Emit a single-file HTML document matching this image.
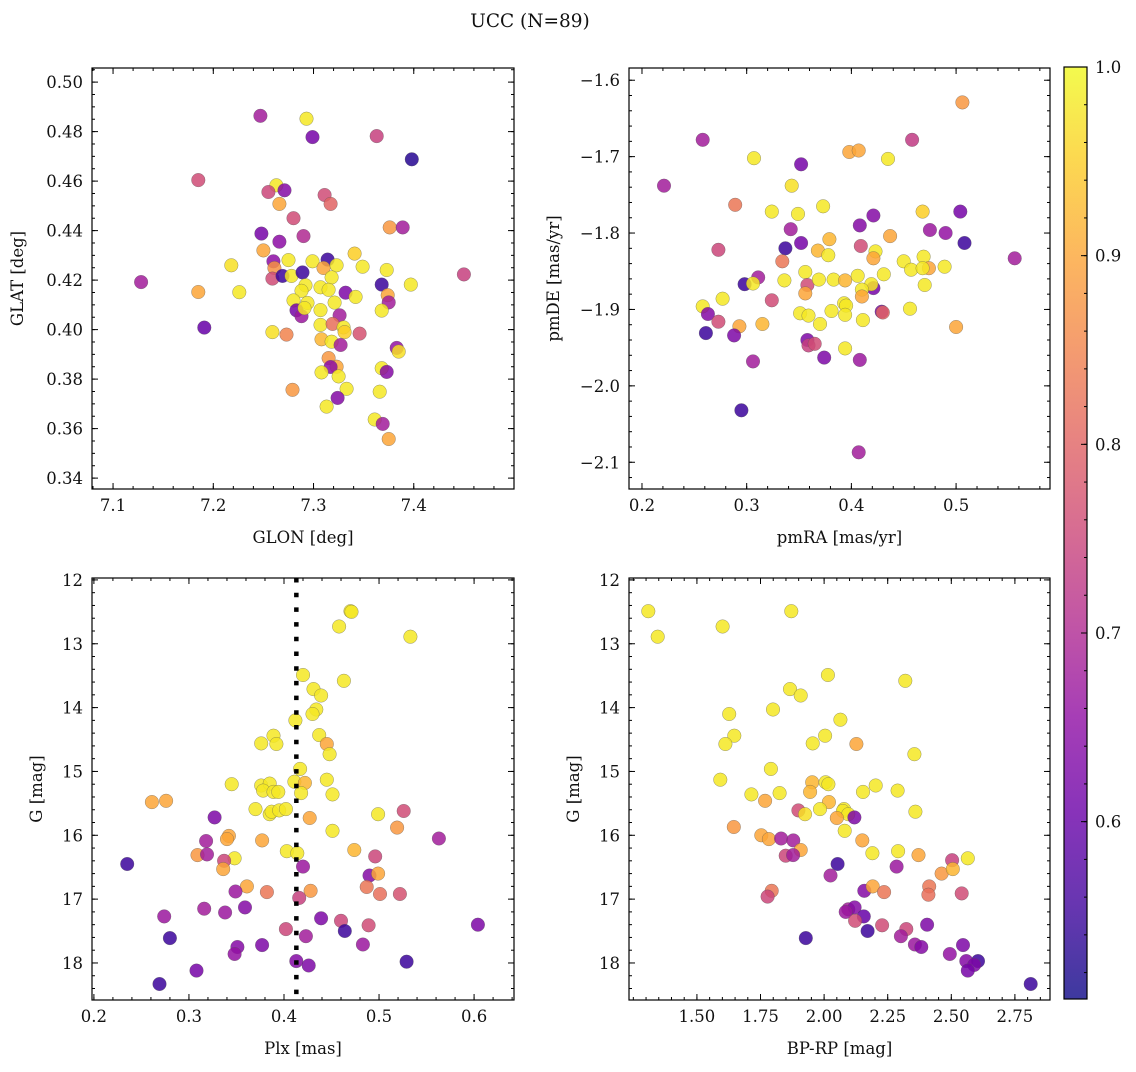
<!DOCTYPE html>
<html><head><meta charset="utf-8"><style>
html,body{margin:0;padding:0;background:#fff;}
svg text{font-family:"DejaVu Serif","Liberation Serif",serif;fill:#111;}
</style></head><body>
<svg id="fig" width="1136" height="1067" viewBox="0 0 1136 1067" xmlns="http://www.w3.org/2000/svg">
<defs>
<linearGradient id="plasma" x1="0" y1="1" x2="0" y2="0">
<stop offset="0" stop-color="#0d0887"/><stop offset="0.1" stop-color="#41049d"/><stop offset="0.2" stop-color="#6a00a8"/><stop offset="0.3" stop-color="#8f0da4"/><stop offset="0.4" stop-color="#b12a90"/><stop offset="0.5" stop-color="#cc4778"/><stop offset="0.6" stop-color="#e16462"/><stop offset="0.7" stop-color="#f2844b"/><stop offset="0.8" stop-color="#fca636"/><stop offset="0.9" stop-color="#fcce25"/><stop offset="1" stop-color="#f0f921"/>
</linearGradient>
</defs>
<text x="530" y="27" text-anchor="middle" font-size="18.5">UCC (N=89)</text>
</svg>
<script>
// ---------- data ----------
const glon=[7.247,7.293,7.299,7.363,7.398,7.185,7.263,7.255,7.271,7.266,7.311,7.317,7.280,7.376,7.389,7.248,7.266,7.290,7.250,7.341,7.218,7.260,7.275,7.261,7.259,7.269,7.278,7.289,7.299,7.314,7.310,7.323,7.318,7.349,7.373,7.450,7.128,7.368,7.397,7.185,7.226,7.292,7.288,7.307,7.315,7.332,7.342,7.374,7.375,7.280,7.294,7.321,7.283,7.288,7.291,7.307,7.368,7.326,7.307,7.319,7.330,7.331,7.191,7.259,7.273,7.346,7.308,7.318,7.327,7.383,7.385,7.315,7.323,7.317,7.308,7.325,7.368,7.373,7.333,7.279,7.366,7.324,7.313,7.361,7.369,7.375];
const glat=[0.4864,0.4852,0.4778,0.4782,0.4688,0.4604,0.4583,0.4556,0.4563,0.4508,0.4544,0.4508,0.4450,0.4413,0.4413,0.4388,0.4355,0.4378,0.4320,0.4307,0.4260,0.4276,0.4281,0.4249,0.4206,0.4217,0.4217,0.4231,0.4276,0.4283,0.4249,0.4260,0.4211,0.4254,0.4241,0.4223,0.4192,0.4182,0.4182,0.4152,0.4151,0.4179,0.4157,0.4171,0.4161,0.4149,0.4132,0.4139,0.4110,0.4118,0.4108,0.4109,0.4078,0.4054,0.4087,0.4079,0.4077,0.4058,0.4019,0.4023,0.4009,0.3990,0.4008,0.3990,0.3980,0.3984,0.3961,0.3951,0.3938,0.3926,0.3911,0.3885,0.3850,0.3849,0.3827,0.3811,0.3844,0.3829,0.3761,0.3757,0.3749,0.3724,0.3689,0.3637,0.3619,0.3558];
const probTL=[0.68,0.98,0.62,0.74,0.53,0.76,0.98,0.75,0.64,0.9,0.76,0.8,0.76,0.88,0.68,0.62,0.65,0.7,0.9,0.95,0.97,0.65,0.98,0.87,0.76,0.55,0.98,0.55,0.98,0.55,0.9,0.98,0.98,0.98,0.98,0.74,0.68,0.55,0.98,0.9,0.98,0.98,0.98,0.98,0.98,0.63,0.98,0.9,0.68,0.98,0.98,0.98,0.62,0.67,0.98,0.98,0.98,0.68,0.98,0.82,0.98,0.95,0.6,0.97,0.85,0.77,0.92,0.98,0.68,0.66,0.97,0.88,0.9,0.65,0.98,0.98,0.98,0.64,0.98,0.88,0.98,0.64,0.98,0.98,0.68,0.9];

const pmra=[0.506,0.258,0.458,0.398,0.407,0.307,0.435,0.352,0.221,0.343,0.289,0.373,0.324,0.349,0.468,0.504,0.421,0.408,0.342,0.475,0.490,0.437,0.379,0.352,0.508,0.337,0.273,0.409,0.368,0.378,0.423,0.421,0.556,0.334,0.450,0.469,0.457,0.474,0.468,0.489,0.431,0.356,0.311,0.298,0.306,0.336,0.358,0.369,0.383,0.394,0.406,0.356,0.421,0.419,0.410,0.410,0.470,0.277,0.324,0.258,0.263,0.393,0.395,0.381,0.351,0.359,0.394,0.429,0.430,0.456,0.273,0.293,0.315,0.370,0.411,0.500,0.261,0.288,0.358,0.359,0.365,0.394,0.374,0.408,0.306,0.295,0.407];
const pmde=[-1.629,-1.678,-1.678,-1.694,-1.692,-1.702,-1.703,-1.710,-1.738,-1.738,-1.763,-1.765,-1.772,-1.775,-1.772,-1.772,-1.777,-1.790,-1.795,-1.796,-1.800,-1.804,-1.808,-1.813,-1.813,-1.820,-1.822,-1.817,-1.823,-1.829,-1.824,-1.833,-1.833,-1.837,-1.837,-1.831,-1.848,-1.846,-1.846,-1.844,-1.854,-1.851,-1.858,-1.867,-1.866,-1.862,-1.868,-1.861,-1.861,-1.862,-1.856,-1.879,-1.872,-1.867,-1.874,-1.883,-1.868,-1.886,-1.888,-1.896,-1.906,-1.892,-1.895,-1.902,-1.905,-1.908,-1.907,-1.903,-1.904,-1.899,-1.916,-1.922,-1.919,-1.919,-1.914,-1.923,-1.931,-1.934,-1.940,-1.947,-1.945,-1.951,-1.963,-1.966,-1.968,-2.032,-2.087];
const probTR=[0.88,0.68,0.73,0.9,0.9,0.98,0.98,0.62,0.68,0.97,0.83,0.98,0.98,0.98,0.95,0.62,0.64,0.64,0.68,0.67,0.66,0.9,0.92,0.62,0.55,0.55,0.75,0.76,0.92,0.98,0.98,0.9,0.68,0.83,0.98,0.98,0.98,0.9,0.98,0.98,0.98,0.98,0.68,0.55,0.98,0.98,0.76,0.98,0.98,0.92,0.98,0.9,0.62,0.98,0.98,0.9,0.98,0.98,0.76,0.98,0.64,0.98,0.98,0.98,0.98,0.98,0.98,0.63,0.8,0.98,0.76,0.9,0.92,0.98,0.98,0.9,0.55,0.63,0.63,0.74,0.76,0.98,0.63,0.67,0.68,0.55,0.68];

const plx=[0.470,0.471,0.458,0.533,0.420,0.463,0.431,0.439,0.434,0.430,0.412,0.389,0.376,0.392,0.437,0.445,0.448,0.417,0.411,0.422,0.418,0.445,0.451,0.345,0.376,0.385,0.378,0.389,0.394,0.261,0.276,0.370,0.385,0.387,0.395,0.402,0.427,0.499,0.526,0.327,0.519,0.451,0.563,0.318,0.342,0.340,0.377,0.474,0.403,0.414,0.309,0.319,0.348,0.337,0.336,0.496,0.235,0.420,0.490,0.499,0.361,0.349,0.382,0.428,0.487,0.501,0.522,0.416,0.316,0.338,0.359,0.274,0.439,0.460,0.489,0.604,0.402,0.464,0.423,0.280,0.483,0.377,0.351,0.348,0.529,0.413,0.426,0.308,0.269];
const gmagBL=[12.49,12.50,12.73,12.89,13.49,13.58,13.71,13.81,14.03,14.10,14.20,14.44,14.56,14.57,14.43,14.57,14.73,14.96,15.16,15.18,15.34,15.13,15.36,15.20,15.22,15.19,15.30,15.32,15.32,15.48,15.46,15.59,15.67,15.63,15.61,15.59,15.73,15.67,15.62,15.72,15.88,15.93,16.05,16.09,16.01,16.06,16.08,16.23,16.25,16.28,16.31,16.30,16.36,16.40,16.53,16.33,16.45,16.49,16.63,16.60,16.80,16.88,16.89,16.87,16.81,16.92,16.92,16.98,17.15,17.21,17.13,17.27,17.30,17.34,17.41,17.40,17.47,17.50,17.58,17.61,17.71,17.72,17.75,17.86,17.98,17.97,18.04,18.12,18.33];
const probBL=[0.98,0.98,0.98,0.98,0.98,0.98,0.98,0.98,0.98,0.98,0.98,0.98,0.98,0.98,0.98,0.9,0.98,0.98,0.98,0.92,0.98,0.98,0.98,0.98,0.98,0.98,0.98,0.98,0.98,0.9,0.9,0.98,0.98,0.98,0.98,0.98,0.9,0.98,0.76,0.63,0.88,0.98,0.68,0.68,0.9,0.9,0.9,0.92,0.98,0.98,0.88,0.68,0.98,0.75,0.9,0.75,0.55,0.67,0.64,0.9,0.9,0.67,0.83,0.88,0.83,0.82,0.77,0.74,0.68,0.67,0.64,0.67,0.63,0.75,0.76,0.63,0.75,0.55,0.68,0.55,0.67,0.63,0.64,0.66,0.55,0.64,0.63,0.62,0.55];

const bprp=[1.309,1.346,1.871,1.601,2.015,2.319,1.866,1.908,1.799,1.627,2.064,2.004,1.647,1.612,1.955,2.127,2.355,1.791,1.592,1.953,2.006,2.017,2.203,1.945,2.153,2.289,1.714,1.825,1.768,2.019,1.984,2.078,2.074,2.095,1.899,1.925,2.119,2.359,2.050,2.081,1.645,1.753,1.783,1.831,1.879,2.150,1.908,2.190,2.291,2.371,1.849,1.878,2.565,2.503,2.053,2.285,2.025,2.462,2.506,1.794,1.778,2.158,2.191,2.236,2.413,2.410,2.541,2.095,2.120,2.085,2.156,2.122,2.228,2.405,2.323,2.171,2.302,1.928,2.357,2.382,2.546,2.494,2.559,2.605,2.590,2.565,2.812];
const gmagBR=[12.49,12.89,12.49,12.73,13.49,13.58,13.71,13.81,14.03,14.10,14.19,14.44,14.44,14.57,14.56,14.57,14.73,14.96,15.13,15.17,15.17,15.20,15.22,15.32,15.32,15.30,15.36,15.34,15.46,15.48,15.59,15.59,15.62,15.67,15.61,15.67,15.72,15.63,15.73,15.93,15.87,16.00,16.06,16.05,16.08,16.08,16.23,16.28,16.25,16.31,16.32,16.31,16.36,16.39,16.45,16.49,16.63,16.60,16.53,16.87,16.96,16.87,16.80,16.89,16.80,16.93,16.91,17.16,17.13,17.20,17.27,17.34,17.41,17.40,17.47,17.50,17.58,17.61,17.71,17.75,17.72,17.86,17.97,17.97,18.03,18.12,18.33];
const probBR=[0.98,0.98,0.98,0.98,0.98,0.98,0.98,0.98,0.98,0.98,0.98,0.98,0.98,0.98,0.98,0.9,0.98,0.98,0.98,0.92,0.98,0.98,0.98,0.92,0.98,0.98,0.98,0.98,0.9,0.92,0.98,0.98,0.98,0.98,0.76,0.97,0.63,0.98,0.9,0.98,0.88,0.9,0.9,0.68,0.68,0.9,0.9,0.98,0.98,0.9,0.75,0.68,0.98,0.74,0.55,0.67,0.68,0.88,0.92,0.83,0.75,0.64,0.9,0.83,0.83,0.82,0.76,0.68,0.64,0.67,0.6,0.76,0.76,0.63,0.75,0.55,0.68,0.55,0.67,0.64,0.63,0.66,0.64,0.55,0.63,0.62,0.55];

const plxLine=[0.413];
const cbTicks=[0.6,0.7,0.8,0.9,1.0];

// ---------- helpers ----------
const NS='http://www.w3.org/2000/svg';
const svg=document.getElementById('fig');
function mk(tag,attrs,parent){const e=document.createElementNS(NS,tag);for(const k in attrs)e.setAttribute(k,attrs[k]);(parent||svg).appendChild(e);return e;}
const VMIN=0.506,VMAX=1.0;
const stops=['#0d0887','#41049d','#6a00a8','#8f0da4','#b12a90','#cc4778','#e16462','#f2844b','#fca636','#fcce25','#f0f921'];
function hex(h){return [parseInt(h.substr(1,2),16),parseInt(h.substr(3,2),16),parseInt(h.substr(5,2),16)];}
function cmap(v){let t=(v-VMIN)/(VMAX-VMIN);t=Math.max(0,Math.min(1,t));const f=t*10,i=Math.min(9,Math.floor(f)),r=f-i;const a=hex(stops[i]),b=hex(stops[i+1]);return 'rgb('+a.map((c,k)=>Math.round(c+(b[k]-c)*r)).join(',')+')';}
function fmt(v,d){return v.toFixed(d).replace('-','\u2212');}
const FS=16.5;

function panel(p){
  const g=mk('g',{});
  
  
  const L=p.box[0],T=p.box[1],R=p.box[2],B=p.box[3];
  const sx=v=>L+(v-p.xd[0])/(p.xd[1]-p.xd[0])*(R-L);
  const sy=p.yinv?(v=>T+(v-p.yd[0])/(p.yd[1]-p.yd[0])*(B-T)):(v=>B-(v-p.yd[0])/(p.yd[1]-p.yd[0])*(B-T));
  const pts=mk('g',{},g);
  
  
  for(let i=0;i<p.x.length;i++){
    const c=mk('circle',{cx:sx(p.x[i]).toFixed(1),cy:sy(p.y[i]).toFixed(1),r:6.8,fill:cmap(p.c[i]),'fill-opacity':0.85,stroke:'#555','stroke-opacity':0.6,'stroke-width':0.5},pts);
    
    
  }
  if(p.vline){p.vline.forEach(v=>{const l=mk('line',{x1:sx(v),x2:sx(v),y1:T,y2:B,stroke:'#000','stroke-width':4.5,'stroke-dasharray':'4.5 10.2'},g);});}
  const f=mk('rect',{x:L,y:T,width:R-L,height:B-T,fill:'none',stroke:'#000','stroke-width':1.2},g);
  
  
  const tk=mk('g',{stroke:'#000','stroke-width':1},g);
  
  
  const eps=1e-9;
  for(let v=Math.ceil(p.xd[0]/p.xmin-eps)*p.xmin;v<=p.xd[1]+eps;v+=p.xmin){const x=sx(v);mk('line',{x1:x,x2:x,y1:B,y2:B-3},tk);mk('line',{x1:x,x2:x,y1:T,y2:T+3},tk);}
  p.xt.forEach(v=>{const x=sx(v);mk('line',{x1:x,x2:x,y1:B,y2:B-6},tk);mk('line',{x1:x,x2:x,y1:T,y2:T+6},tk);
    const t=mk('text',{x:x,y:B+22,'text-anchor':'middle','font-size':FS},g);t.textContent=fmt(v,p.xdec);});
  for(let v=Math.ceil(p.yd[0]/p.ymin-eps)*p.ymin;v<=p.yd[1]+eps;v+=p.ymin){const y=sy(v);mk('line',{x1:L,x2:L+3,y1:y,y2:y},tk);mk('line',{x1:R,x2:R-3,y1:y,y2:y},tk);}
  p.yt.forEach(v=>{const y=sy(v);mk('line',{x1:L,x2:L+6,y1:y,y2:y},tk);mk('line',{x1:R,x2:R-6,y1:y,y2:y},tk);
    const t=mk('text',{x:L-9,y:y+6,'text-anchor':'end','font-size':FS},g);t.textContent=fmt(v,p.ydec);});
  const xl=mk('text',{x:(L+R)/2,y:B+54,'text-anchor':'middle','font-size':FS},g);xl.textContent=p.xlabel;
  
  
  const yx=p.ylx,yy=(T+B)/2;
  const yl=mk('text',{x:yx,y:yy,'text-anchor':'middle','font-size':FS,transform:'rotate(-90 '+yx+' '+yy+')'},g);yl.textContent=p.ylabel;
  
  
}

panel({name:'glon-glat-panel',box:[92,68,514,489],xd:[7.079,7.500],yd:[0.3356,0.5057],x:glon,y:glat,c:probTL,
  xt:[7.1,7.2,7.3,7.4],xmin:0.02,xdec:1,yt:[0.34,0.36,0.38,0.40,0.42,0.44,0.46,0.48,0.50],ymin:0.005,ydec:2,xlabel:'GLON [deg]',ylabel:'GLAT [deg]',ylx:23});
panel({name:'proper-motion-panel',box:[629,68,1050,489],xd:[0.1876,0.5897],yd:[-2.135,-1.584],x:pmra,y:pmde,c:probTR,
  xt:[0.2,0.3,0.4,0.5],xmin:0.02,xdec:1,yt:[-2.1,-2.0,-1.9,-1.8,-1.7,-1.6],ymin:0.02,ydec:1,xlabel:'pmRA [mas/yr]',ylabel:'pmDE [mas/yr]',ylx:559});
panel({name:'parallax-magnitude-panel',box:[92,578,514,1000],xd:[0.198,0.642],yd:[11.97,18.58],yinv:true,x:plx,y:gmagBL,c:probBL,vline:plxLine,
  xt:[0.2,0.3,0.4,0.5,0.6],xmin:0.02,xdec:1,yt:[12,13,14,15,16,17,18],ymin:0.2,ydec:0,xlabel:'Plx [mas]',ylabel:'G [mag]',ylx:42});
panel({name:'color-magnitude-panel',box:[629,578,1050,1000],xd:[1.233,2.888],yd:[11.97,18.58],yinv:true,x:bprp,y:gmagBR,c:probBR,
  xt:[1.5,1.75,2.0,2.25,2.5,2.75],xmin:0.05,xdec:2,yt:[12,13,14,15,16,17,18],ymin:0.2,ydec:0,xlabel:'BP-RP [mag]',ylabel:'G [mag]',ylx:579});

const cb=mk('g',{});


const CL=1064,CR=1087,CT=67,CB=999;
const cy=v=>CB-(v-VMIN)/(VMAX-VMIN)*(CB-CT);
mk('rect',{x:CL,y:CT,width:CR-CL,height:CB-CT,fill:'url(#plasma)','fill-opacity':0.8,stroke:'#000','stroke-width':1.2},cb);
for(let v=0.52;v<=1.0001;v+=0.02){const y=cy(v);mk('line',{x1:CR,x2:CR-3,y1:y,y2:y,stroke:'#000','stroke-width':1},cb);}
cbTicks.forEach(v=>{const y=cy(v);mk('line',{x1:CR,x2:CR-6,y1:y,y2:y,stroke:'#000','stroke-width':1},cb);
  const t=mk('text',{x:CR+8,y:y+6,'font-size':FS},cb);t.textContent=v.toFixed(1);});
</script>
</body></html>
